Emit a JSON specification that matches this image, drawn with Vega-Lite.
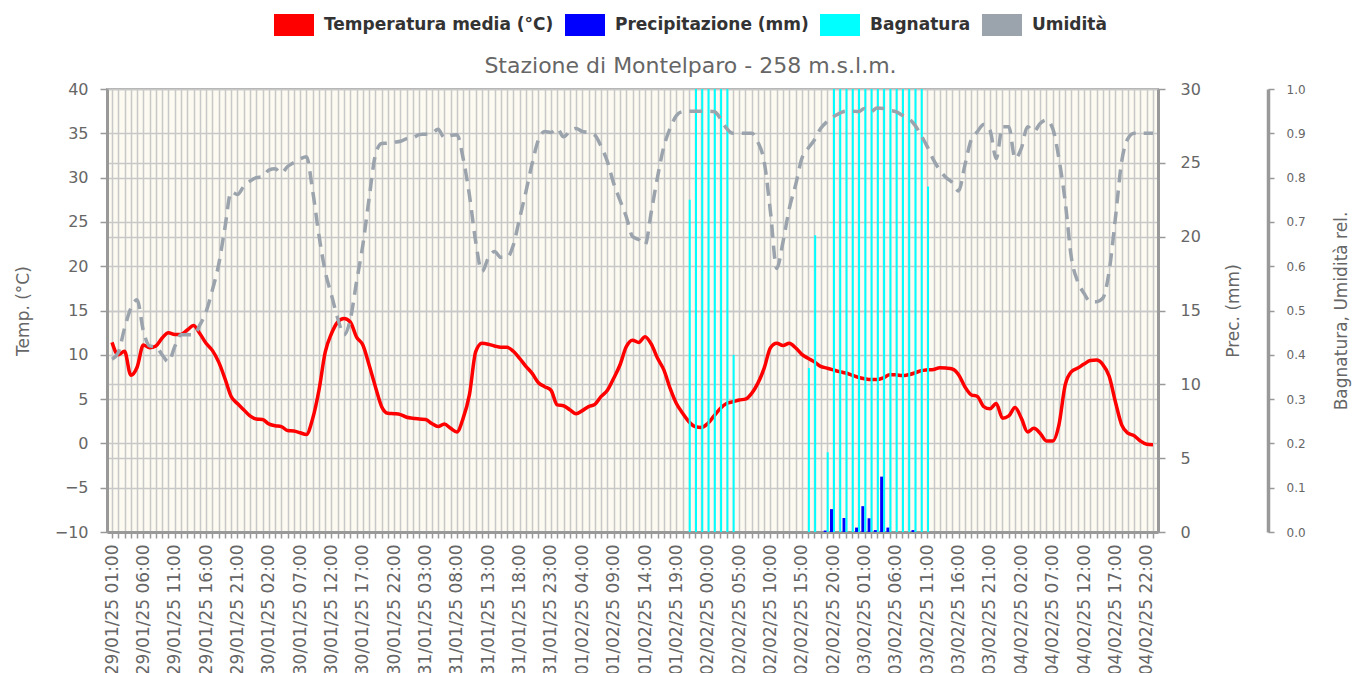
{
"$schema": "https://vega.github.io/schema/vega-lite/v6.json",
"width": 1051, "height": 443,
"autosize": "none",
"padding": {"left": 107, "top": 89, "right": 198, "bottom": 141},
"background": "white",
"config": {
 "view": {"fill": "#fdfbf1", "stroke": "#aaaaaa", "strokeWidth": 2},
 "font": "DejaVu Sans",
 "axis": {"labelFont": "DejaVu Sans", "titleFont": "DejaVu Sans", "labelColor": "#666666", "titleColor": "#666666", "gridColor": "#c8c8c8", "gridWidth": 1.5, "domainColor": "#999999", "domainWidth": 3, "tickColor": "#999999", "tickWidth": 1.5, "titleFontWeight": "normal", "titleFontSize": 17}
},
"title": {"text": "Stazione di Montelparo - 258 m.s.l.m.", "fontSize": 22, "font": "DejaVu Sans", "fontWeight": "normal", "color": "#666666", "anchor": "middle", "dx": 58, "dy": 83, "offset": 10, "frame": "group"},
"data": {"values": [
{"h":0,"t":"29/01/25 01:00","temp":11.4,"hum":0.39},
{"h":1,"t":"29/01/25 02:00","temp":10.0,"hum":0.405},
{"h":2,"t":"29/01/25 03:00","temp":10.4,"hum":0.46},
{"h":3,"t":"29/01/25 04:00","temp":7.7,"hum":0.505},
{"h":4,"t":"29/01/25 05:00","temp":8.6,"hum":0.524},
{"h":5,"t":"29/01/25 06:00","temp":11.1,"hum":0.454},
{"h":6,"t":"29/01/25 07:00","temp":10.8,"hum":0.42},
{"h":7,"t":"29/01/25 08:00","temp":11.0,"hum":0.418},
{"h":8,"t":"29/01/25 09:00","temp":11.9,"hum":0.40},
{"h":9,"t":"29/01/25 10:00","temp":12.5,"hum":0.384},
{"h":10,"t":"29/01/25 11:00","temp":12.3,"hum":0.418},
{"h":11,"t":"29/01/25 12:00","temp":12.3,"hum":0.445},
{"h":12,"t":"29/01/25 13:00","temp":12.8,"hum":0.445},
{"h":13,"t":"29/01/25 14:00","temp":13.3,"hum":0.445},
{"h":14,"t":"29/01/25 15:00","temp":12.4,"hum":0.467},
{"h":15,"t":"29/01/25 16:00","temp":11.3,"hum":0.497},
{"h":16,"t":"29/01/25 17:00","temp":10.5,"hum":0.546},
{"h":17,"t":"29/01/25 18:00","temp":9.2,"hum":0.603},
{"h":18,"t":"29/01/25 19:00","temp":7.35,"hum":0.686},
{"h":19,"t":"29/01/25 20:00","temp":5.3,"hum":0.768},
{"h":20,"t":"29/01/25 21:00","temp":4.5,"hum":0.762},
{"h":21,"t":"29/01/25 22:00","temp":3.8,"hum":0.78},
{"h":22,"t":"29/01/25 23:00","temp":3.1,"hum":0.792},
{"h":23,"t":"30/01/25 00:00","temp":2.75,"hum":0.80},
{"h":24,"t":"30/01/25 01:00","temp":2.7,"hum":0.802},
{"h":25,"t":"30/01/25 02:00","temp":2.2,"hum":0.817},
{"h":26,"t":"30/01/25 03:00","temp":2.0,"hum":0.82},
{"h":27,"t":"30/01/25 04:00","temp":1.9,"hum":0.81},
{"h":28,"t":"30/01/25 05:00","temp":1.45,"hum":0.825},
{"h":29,"t":"30/01/25 06:00","temp":1.4,"hum":0.834},
{"h":30,"t":"30/01/25 07:00","temp":1.2,"hum":0.842},
{"h":31,"t":"30/01/25 08:00","temp":1.0,"hum":0.847},
{"h":32,"t":"30/01/25 09:00","temp":2.8,"hum":0.77},
{"h":33,"t":"30/01/25 10:00","temp":6.0,"hum":0.67},
{"h":34,"t":"30/01/25 11:00","temp":10.3,"hum":0.588},
{"h":35,"t":"30/01/25 12:00","temp":12.4,"hum":0.535},
{"h":36,"t":"30/01/25 13:00","temp":13.7,"hum":0.482},
{"h":37,"t":"30/01/25 14:00","temp":14.1,"hum":0.445},
{"h":38,"t":"30/01/25 15:00","temp":13.7,"hum":0.48},
{"h":39,"t":"30/01/25 16:00","temp":12.0,"hum":0.565},
{"h":40,"t":"30/01/25 17:00","temp":11.1,"hum":0.648},
{"h":41,"t":"30/01/25 18:00","temp":8.85,"hum":0.753},
{"h":42,"t":"30/01/25 19:00","temp":6.4,"hum":0.851},
{"h":43,"t":"30/01/25 20:00","temp":4.15,"hum":0.877},
{"h":44,"t":"30/01/25 21:00","temp":3.4,"hum":0.878},
{"h":45,"t":"30/01/25 22:00","temp":3.35,"hum":0.88},
{"h":46,"t":"30/01/25 23:00","temp":3.25,"hum":0.882},
{"h":47,"t":"31/01/25 00:00","temp":2.95,"hum":0.888},
{"h":48,"t":"31/01/25 01:00","temp":2.85,"hum":0.89},
{"h":49,"t":"31/01/25 02:00","temp":2.75,"hum":0.897},
{"h":50,"t":"31/01/25 03:00","temp":2.7,"hum":0.898},
{"h":51,"t":"31/01/25 04:00","temp":2.25,"hum":0.9},
{"h":52,"t":"31/01/25 05:00","temp":1.9,"hum":0.909},
{"h":53,"t":"31/01/25 06:00","temp":2.2,"hum":0.89},
{"h":54,"t":"31/01/25 07:00","temp":1.7,"hum":0.895},
{"h":55,"t":"31/01/25 08:00","temp":1.3,"hum":0.897},
{"h":56,"t":"31/01/25 09:00","temp":2.85,"hum":0.843},
{"h":57,"t":"31/01/25 10:00","temp":5.5,"hum":0.76},
{"h":58,"t":"31/01/25 11:00","temp":10.35,"hum":0.655},
{"h":59,"t":"31/01/25 12:00","temp":11.3,"hum":0.588},
{"h":60,"t":"31/01/25 13:00","temp":11.2,"hum":0.618},
{"h":61,"t":"31/01/25 14:00","temp":11.0,"hum":0.633},
{"h":62,"t":"31/01/25 15:00","temp":10.85,"hum":0.62},
{"h":63,"t":"31/01/25 16:00","temp":10.85,"hum":0.62},
{"h":64,"t":"31/01/25 17:00","temp":10.4,"hum":0.648},
{"h":65,"t":"31/01/25 18:00","temp":9.6,"hum":0.708},
{"h":66,"t":"31/01/25 19:00","temp":8.7,"hum":0.768},
{"h":67,"t":"31/01/25 20:00","temp":7.9,"hum":0.832},
{"h":68,"t":"31/01/25 21:00","temp":6.85,"hum":0.885},
{"h":69,"t":"31/01/25 22:00","temp":6.4,"hum":0.904},
{"h":70,"t":"31/01/25 23:00","temp":6.0,"hum":0.902},
{"h":71,"t":"01/02/25 00:00","temp":4.35,"hum":0.911},
{"h":72,"t":"01/02/25 01:00","temp":4.25,"hum":0.892},
{"h":73,"t":"01/02/25 02:00","temp":3.8,"hum":0.904},
{"h":74,"t":"01/02/25 03:00","temp":3.35,"hum":0.911},
{"h":75,"t":"01/02/25 04:00","temp":3.7,"hum":0.904},
{"h":76,"t":"01/02/25 05:00","temp":4.15,"hum":0.902},
{"h":77,"t":"01/02/25 06:00","temp":4.4,"hum":0.896},
{"h":78,"t":"01/02/25 07:00","temp":5.3,"hum":0.87},
{"h":79,"t":"01/02/25 08:00","temp":6.0,"hum":0.836},
{"h":80,"t":"01/02/25 09:00","temp":7.35,"hum":0.787},
{"h":81,"t":"01/02/25 10:00","temp":8.85,"hum":0.749},
{"h":82,"t":"01/02/25 11:00","temp":10.9,"hum":0.712},
{"h":83,"t":"01/02/25 12:00","temp":11.65,"hum":0.667},
{"h":84,"t":"01/02/25 13:00","temp":11.4,"hum":0.66},
{"h":85,"t":"01/02/25 14:00","temp":12.05,"hum":0.648},
{"h":86,"t":"01/02/25 15:00","temp":11.2,"hum":0.723},
{"h":87,"t":"01/02/25 16:00","temp":9.6,"hum":0.802},
{"h":88,"t":"01/02/25 17:00","temp":8.3,"hum":0.87},
{"h":89,"t":"01/02/25 18:00","temp":6.2,"hum":0.911},
{"h":90,"t":"01/02/25 19:00","temp":4.5,"hum":0.94},
{"h":91,"t":"01/02/25 20:00","temp":3.4,"hum":0.949},
{"h":92,"t":"01/02/25 21:00","temp":2.45,"hum":0.95,"wet":0.75},
{"h":93,"t":"01/02/25 22:00","temp":1.9,"hum":0.95,"wet":1},
{"h":94,"t":"01/02/25 23:00","temp":1.8,"hum":0.95,"wet":1},
{"h":95,"t":"02/02/25 00:00","temp":2.25,"hum":0.95,"wet":1},
{"h":96,"t":"02/02/25 01:00","temp":3.1,"hum":0.949,"wet":1},
{"h":97,"t":"02/02/25 02:00","temp":3.95,"hum":0.934,"wet":1},
{"h":98,"t":"02/02/25 03:00","temp":4.5,"hum":0.911,"wet":1},
{"h":99,"t":"02/02/25 04:00","temp":4.7,"hum":0.9,"wet":0.4},
{"h":100,"t":"02/02/25 05:00","temp":4.9,"hum":0.9},
{"h":101,"t":"02/02/25 06:00","temp":5.0,"hum":0.9},
{"h":102,"t":"02/02/25 07:00","temp":5.65,"hum":0.9},
{"h":103,"t":"02/02/25 08:00","temp":6.8,"hum":0.88},
{"h":104,"t":"02/02/25 09:00","temp":8.5,"hum":0.836},
{"h":105,"t":"02/02/25 10:00","temp":10.8,"hum":0.723},
{"h":106,"t":"02/02/25 11:00","temp":11.3,"hum":0.595},
{"h":107,"t":"02/02/25 12:00","temp":11.05,"hum":0.655},
{"h":108,"t":"02/02/25 13:00","temp":11.3,"hum":0.73},
{"h":109,"t":"02/02/25 14:00","temp":10.8,"hum":0.783},
{"h":110,"t":"02/02/25 15:00","temp":10.05,"hum":0.843},
{"h":111,"t":"02/02/25 16:00","temp":9.6,"hum":0.866,"wet":0.37},
{"h":112,"t":"02/02/25 17:00","temp":9.2,"hum":0.885,"wet":0.67},
{"h":113,"t":"02/02/25 18:00","temp":8.7,"hum":0.911},
{"h":114,"t":"02/02/25 19:00","temp":8.5,"hum":0.926,"wet":0.18,"prec":0.1},
{"h":115,"t":"02/02/25 20:00","temp":8.3,"hum":0.937,"wet":1,"prec":1.55},
{"h":116,"t":"02/02/25 21:00","temp":8.1,"hum":0.945,"wet":1},
{"h":117,"t":"02/02/25 22:00","temp":7.95,"hum":0.95,"wet":1,"prec":0.95},
{"h":118,"t":"02/02/25 23:00","temp":7.7,"hum":0.95,"wet":1},
{"h":119,"t":"03/02/25 00:00","temp":7.45,"hum":0.949,"wet":1,"prec":0.3},
{"h":120,"t":"03/02/25 01:00","temp":7.3,"hum":0.956,"wet":1,"prec":1.75},
{"h":121,"t":"03/02/25 02:00","temp":7.2,"hum":0.949,"wet":1,"prec":0.93},
{"h":122,"t":"03/02/25 03:00","temp":7.2,"hum":0.957,"wet":1,"prec":0.13},
{"h":123,"t":"03/02/25 04:00","temp":7.4,"hum":0.956,"wet":1,"prec":3.75},
{"h":124,"t":"03/02/25 05:00","temp":7.75,"hum":0.952,"wet":1,"prec":0.3},
{"h":125,"t":"03/02/25 06:00","temp":7.75,"hum":0.949,"wet":1},
{"h":126,"t":"03/02/25 07:00","temp":7.65,"hum":0.941,"wet":1},
{"h":127,"t":"03/02/25 08:00","temp":7.75,"hum":0.934,"wet":1},
{"h":128,"t":"03/02/25 09:00","temp":7.95,"hum":0.919,"wet":1,"prec":0.13},
{"h":129,"t":"03/02/25 10:00","temp":8.2,"hum":0.896,"wet":1},
{"h":130,"t":"03/02/25 11:00","temp":8.3,"hum":0.87,"wet":0.78},
{"h":131,"t":"03/02/25 12:00","temp":8.35,"hum":0.84},
{"h":132,"t":"03/02/25 13:00","temp":8.55,"hum":0.817},
{"h":133,"t":"03/02/25 14:00","temp":8.5,"hum":0.80},
{"h":134,"t":"03/02/25 15:00","temp":8.4,"hum":0.789},
{"h":135,"t":"03/02/25 16:00","temp":7.75,"hum":0.77},
{"h":136,"t":"03/02/25 17:00","temp":6.4,"hum":0.828},
{"h":137,"t":"03/02/25 18:00","temp":5.5,"hum":0.885},
{"h":138,"t":"03/02/25 19:00","temp":5.3,"hum":0.904},
{"h":139,"t":"03/02/25 20:00","temp":4.15,"hum":0.92},
{"h":140,"t":"03/02/25 21:00","temp":3.9,"hum":0.907},
{"h":141,"t":"03/02/25 22:00","temp":4.5,"hum":0.843},
{"h":142,"t":"03/02/25 23:00","temp":2.85,"hum":0.915},
{"h":143,"t":"04/02/25 00:00","temp":3.1,"hum":0.915},
{"h":144,"t":"04/02/25 01:00","temp":4.05,"hum":0.843},
{"h":145,"t":"04/02/25 02:00","temp":2.85,"hum":0.866},
{"h":146,"t":"04/02/25 03:00","temp":1.3,"hum":0.915},
{"h":147,"t":"04/02/25 04:00","temp":1.7,"hum":0.904},
{"h":148,"t":"04/02/25 05:00","temp":1.15,"hum":0.922},
{"h":149,"t":"04/02/25 06:00","temp":0.27,"hum":0.93},
{"h":150,"t":"04/02/25 07:00","temp":0.27,"hum":0.911},
{"h":151,"t":"04/02/25 08:00","temp":2.1,"hum":0.843},
{"h":152,"t":"04/02/25 09:00","temp":6.6,"hum":0.746},
{"h":153,"t":"04/02/25 10:00","temp":8.1,"hum":0.618},
{"h":154,"t":"04/02/25 11:00","temp":8.5,"hum":0.565},
{"h":155,"t":"04/02/25 12:00","temp":8.95,"hum":0.539},
{"h":156,"t":"04/02/25 13:00","temp":9.35,"hum":0.52},
{"h":157,"t":"04/02/25 14:00","temp":9.4,"hum":0.52},
{"h":158,"t":"04/02/25 15:00","temp":8.9,"hum":0.528},
{"h":159,"t":"04/02/25 16:00","temp":7.6,"hum":0.588},
{"h":160,"t":"04/02/25 17:00","temp":4.7,"hum":0.708},
{"h":161,"t":"04/02/25 18:00","temp":2.1,"hum":0.836},
{"h":162,"t":"04/02/25 19:00","temp":1.15,"hum":0.888},
{"h":163,"t":"04/02/25 20:00","temp":0.87,"hum":0.9},
{"h":164,"t":"04/02/25 21:00","temp":0.27,"hum":0.9},
{"h":165,"t":"04/02/25 22:00","temp":-0.1,"hum":0.9},
{"h":166,"t":"04/02/25 23:00","temp":-0.15,"hum":0.9}
]},
"encoding": {
 "x": {"field": "h", "type": "quantitative",
       "scale": {"domain": [0, 166], "nice": false, "zero": false},
       "axis": {"title": null, "orient": "bottom", "tickCount": 166, "grid": true, "labelAngle": -90, "labelFontSize": 17, "labelOverlap": false, "labelFlush": false, "labelBound": false, "labelPadding": 6, "tickSize": 6,
                "labelExpr": "datum.value % 5 == 0 ? timeFormat(datetime(2025, 0, 29, 1 + datum.value, 0, 0, 0), '%d/%m/%y %H:%M') : ''"}}
},
"layer": [
 {
  "mark": {"type": "line", "color": "#ff0000", "strokeWidth": 3.5, "interpolate": "monotone"},
  "encoding": {
   "y": {"field": "temp", "type": "quantitative", "scale": {"domain": [-10, 40], "nice": false},
         "axis": {"orient": "left", "title": "Temp. (°C)", "values": [-10, -5, 0, 5, 10, 15, 20, 25, 30, 35, 40], "grid": true, "labelFontSize": 16, "tickSize": 7, "labelPadding": 12, "titleAngle": 270, "titlePadding": 22}}
  }
 },
 {
  "transform": [{"filter": "datum.prec > 0"}],
  "mark": {"type": "bar", "size": 3, "xOffset": -1.7},
  "encoding": {
   "y": {"field": "prec", "type": "quantitative", "scale": {"domain": [0, 30], "nice": false},
         "axis": {"orient": "right", "title": "Prec. (mm)", "values": [0, 5, 10, 15, 20, 25, 30], "grid": true, "labelFontSize": 16, "tickSize": 7, "labelPadding": 15, "titleAngle": 270, "titlePadding": 42}},
   "color": {"datum": "Precipitazione (mm)",
             "scale": {"domain": ["Temperatura media (°C)", "Precipitazione (mm)", "Bagnatura", "Umidità"], "range": ["#ff0000", "#0000ff", "#00ffff", "#9ba3ad"]},
             "legend": {"orient": "none", "legendX": 167, "legendY": -84, "direction": "horizontal", "title": null, "symbolType": "M-1,-0.55H1V0.55H-1Z", "symbolSize": 1600, "symbolStrokeWidth": 0, "symbolOpacity": 1, "labelFont": "DejaVu Sans", "labelFontSize": 17, "labelFontWeight": "bold", "labelColor": "#333333", "labelOffset": 10, "labelLimit": 400, "columnPadding": 11}}
  }
 },
 {
  "layer": [
   {
    "transform": [{"filter": "datum.wet > 0"}],
    "mark": {"type": "bar", "size": 2, "xOffset": 0.8},
    "encoding": {
     "y": {"field": "wet", "type": "quantitative", "scale": {"domain": [0, 1], "nice": false},
           "axis": {"orient": "right", "offset": 110, "title": "Bagnatura, Umidità rel.", "values": [0, 0.1, 0.2, 0.3, 0.4, 0.5, 0.6, 0.7, 0.8, 0.9, 1], "format": ".1f", "grid": false, "labelFontSize": 12, "tickSize": 6, "labelPadding": 12, "domainWidth": 3.5, "titleAngle": 270, "titlePadding": 45}},
     "color": {"datum": "Bagnatura",
               "scale": {"domain": ["Temperatura media (°C)", "Precipitazione (mm)", "Bagnatura", "Umidità"], "range": ["#ff0000", "#0000ff", "#00ffff", "#9ba3ad"]},
               "legend": {"orient": "none", "legendX": 167, "legendY": -84, "direction": "horizontal", "title": null, "symbolType": "M-1,-0.55H1V0.55H-1Z", "symbolSize": 1600, "symbolStrokeWidth": 0, "symbolOpacity": 1, "labelFont": "DejaVu Sans", "labelFontSize": 17, "labelFontWeight": "bold", "labelColor": "#333333", "labelOffset": 10, "labelLimit": 400, "columnPadding": 11}}
    }
   },
   {
    "mark": {"type": "line", "color": "#9ba3ad", "strokeWidth": 3.5, "strokeDash": [13, 8], "interpolate": "monotone"},
    "encoding": {
     "y": {"field": "hum", "type": "quantitative", "scale": {"domain": [0, 1], "nice": false},
           "axis": {"orient": "right", "offset": 110, "title": "Bagnatura, Umidità rel.", "values": [0, 0.1, 0.2, 0.3, 0.4, 0.5, 0.6, 0.7, 0.8, 0.9, 1], "format": ".1f", "grid": false, "labelFontSize": 12, "tickSize": 6, "labelPadding": 12, "domainWidth": 3.5, "titleAngle": 270, "titlePadding": 45}}
    }
   }
  ]
 }
],
"resolve": {"scale": {"y": "independent"}}
}
